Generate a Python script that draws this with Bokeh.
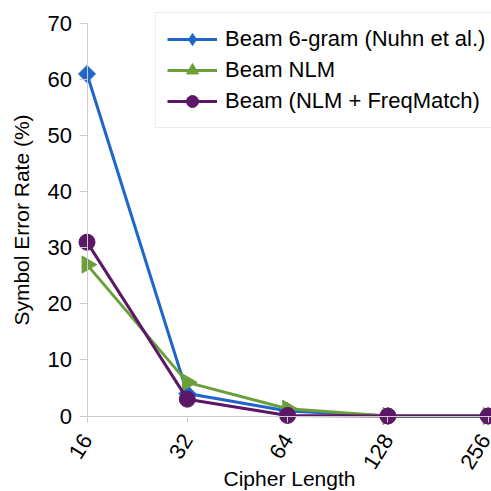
import numpy as np
from bokeh.plotting import figure
from bokeh.models import (FixedTicker, Legend, LegendItem, Range1d,
                          PrintfTickFormatter, ColumnDataSource)
from bokeh.embed import file_html
from bokeh.resources import INLINE

# ---- data ----
cipher_length = [16, 32, 64, 128, 256]
ser_beam_6gram = [61, 4, 0.9, 0, 0]
ser_beam_nlm = [27, 6, 1.3, 0, 0]
ser_beam_nlm_freq = [31, 3, 0.1, 0, 0]
y_ticks = [0, 10, 20, 30, 40, 50, 60, 70]
series_names = ["Beam 6-gram (Nuhn et al.)", "Beam NLM", "Beam (NLM + FreqMatch)"]

W = H = 491
FONT = "Liberation Sans"
GRAY = "#cccccc"

# frame layout (canvas px): x=16 at 86.5, x=256 at 487.7 ; y=0 at 415.5, y=70 at 23
X0, X1 = 86.5, 487.7
Y0, Y70 = 415.5, 23.0
px_per_oct = (X1 - X0) / 4.0
x_start = 2 ** (4 - X0 / px_per_oct)
x_end = 2 ** (8 + (W - X1) / px_per_oct)
px_per_unit = (Y0 - Y70) / 70.0
y_end = 70 + Y70 / px_per_unit
y_start = -(H - Y0) / px_per_unit

p = figure(width=W, height=H, x_axis_type="log",
           x_range=Range1d(x_start, x_end), y_range=Range1d(y_start, y_end),
           output_backend="svg", toolbar_location=None,
           min_border=0, min_border_left=0, min_border_right=0,
           min_border_top=0, min_border_bottom=0)
p.outline_line_color = None
p.xgrid.visible = False
p.ygrid.visible = False
p.background_fill_color = "white"
p.border_fill_color = "white"

colors = ["#1f66cc", "#6b9f3a", "#5d1767"]
ys = [ser_beam_6gram, ser_beam_nlm, ser_beam_nlm_freq]
markers = [("square", 12, np.pi / 4), ("triangle", 17, -np.pi / 2), ("circle", 16, 0.0)]
legend_markers = ["diamond", "triangle", "circle"]

# a source with one undefined point: used only for legend swatches
swatch = ColumnDataSource(data=dict(x=[np.nan], y=[np.nan]))
items = []
for name, y, c, (m, s, a), lm in zip(series_names, ys, colors, markers, legend_markers):
    l = p.line(cipher_length, y, line_color=c, line_width=3)
    p.scatter(cipher_length, y, marker=m, size=s, angle=a,
              fill_color=c, line_color=c, line_width=1)
    lg = p.scatter("x", "y", source=swatch, marker=lm, size=12,
                   fill_color=c, line_color=c, line_width=1)
    items.append(LegendItem(label=name, renderers=[l, lg]))

# axes
xa = p.xaxis[0]
xa.fixed_location = 0
xa.bounds = (16, x_end)
xa.ticker = FixedTicker(ticks=cipher_length)
xa.formatter = PrintfTickFormatter(format="%d")
xa.major_label_orientation = np.deg2rad(58)
xa.axis_label = "Cipher Length"

ya = p.yaxis[0]
ya.fixed_location = 16
ya.bounds = (0, 70)
ya.ticker = FixedTicker(ticks=y_ticks)
ya.axis_label = "Symbol Error Rate (%)"

for ax, tick_out in ((xa, 6), (ya, 8)):
    ax.axis_line_color = GRAY
    ax.axis_line_width = 1
    ax.major_tick_line_color = GRAY
    ax.major_tick_out = tick_out
    ax.major_tick_in = 0
    ax.minor_tick_line_color = None
    ax.major_label_text_font = FONT
    ax.major_label_text_font_size = "22px"
    ax.major_label_text_color = "black"
    ax.axis_label_text_font = FONT
    ax.axis_label_text_font_size = "21px"
    ax.axis_label_text_font_style = "normal"
    ax.axis_label_text_color = "black"
ya.major_label_standoff = 7
ya.axis_label_standoff = 12
xa.major_label_standoff = 14
xa.axis_label_standoff = -12

legend = Legend(items=items, location=(155, 363))
legend.label_text_font = FONT
legend.label_text_font_size = "22px"
legend.label_text_color = "black"
legend.glyph_width = 50
legend.glyph_height = 30
legend.label_height = 30
legend.label_standoff = 8
legend.spacing = 1
legend.padding = 11
legend.margin = 0
legend.border_line_color = "#dddddd"
legend.border_line_width = 1
legend.background_fill_color = "white"
legend.background_fill_alpha = 1.0
p.add_layout(legend)

open("out.html", "w").write(file_html(p, INLINE))
